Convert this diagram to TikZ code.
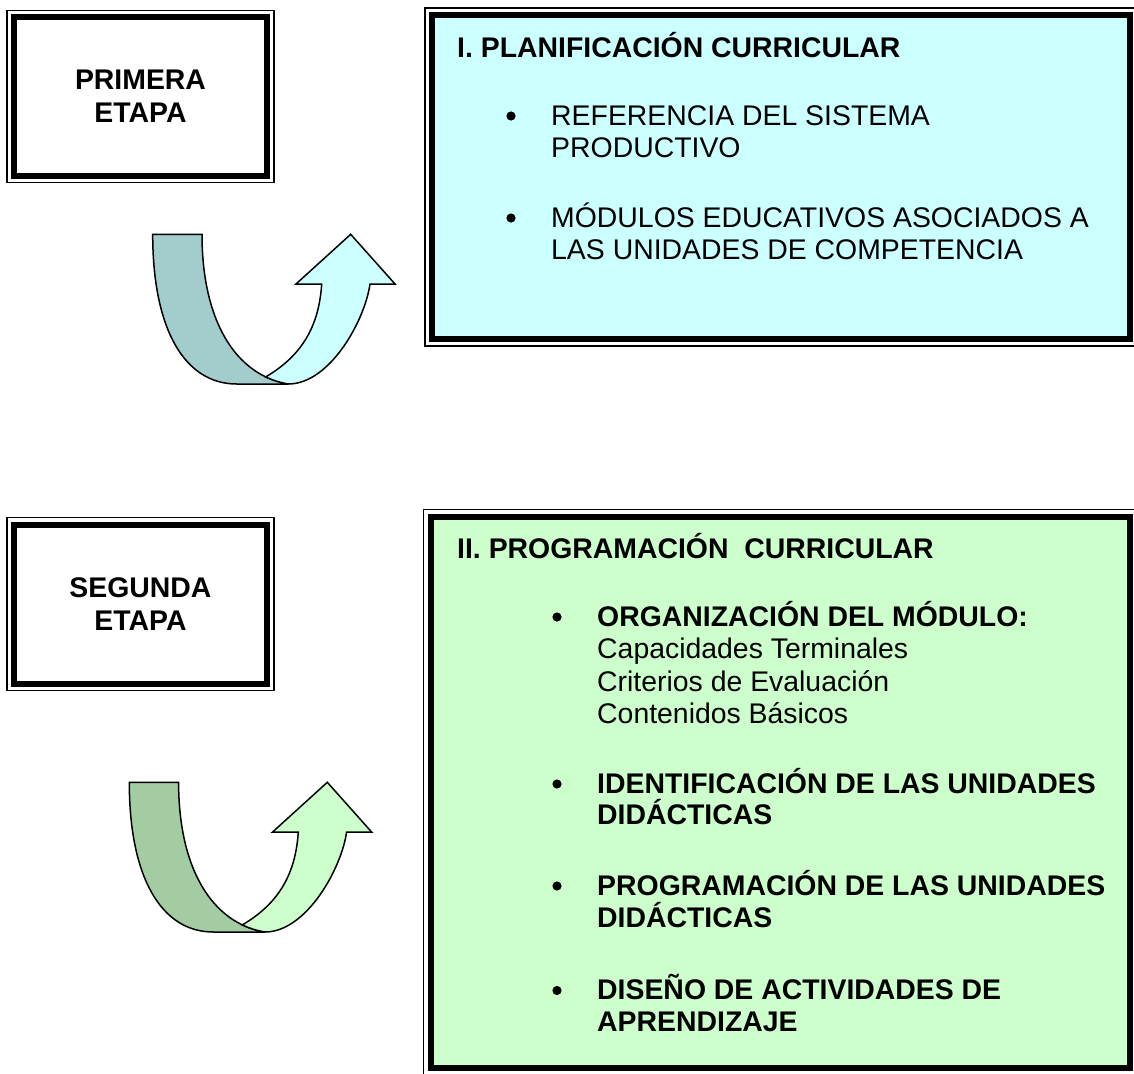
\documentclass[tikz,border=0pt]{standalone}
\usepackage{fontspec}
\setmainfont{Liberation Sans}
\usetikzlibrary{calc,positioning}

\definecolor{cyanbox}{HTML}{CCFFFF}
\definecolor{cyandark}{HTML}{A3CCCC}
\definecolor{greenbox}{HTML}{CCFFCC}
\definecolor{greendark}{HTML}{A3CCA3}

\tikzset{
  framebox/.style={draw, line width=6pt, rectangle, inner sep=0pt, outer sep=0pt,
    align=center, font=\bfseries\fontsize{28.4}{33}\selectfont},
  thinframe/.style={line width=1.5pt},
  linea/.style={anchor=base west, inner sep=0pt, font=\fontsize{28.4}{33}\selectfont},
  lineabold/.style={linea, font=\bfseries\fontsize{28.4}{33}\selectfont},
  band/.style={draw, line width=1.5pt},
}

\begin{document}
\begin{tikzpicture}[x=1pt, y=-1pt]
      \useasboundingbox (0,0) rectangle (1134,1073);

      % Boxes
      \node[framebox, fill=white, minimum width=253pt, minimum height=158pt] (primera) at (140.5,96.5) {PRIMERA\\ETAPA};
      \node[framebox, fill=cyanbox, minimum width=698pt, minimum height=324pt] (planif) at (781,177) {};
      \node[framebox, fill=white, minimum width=253pt, minimum height=159pt] (segunda) at (140.5,604) {SEGUNDA\\ETAPA};
      \node[framebox, fill=greenbox, minimum width=699pt, minimum height=551pt] (program) at (780,792) {};

      % Thin line around each box
      \foreach \cuadro in {primera, planif, segunda, program} {
        \draw[thinframe] ($(\cuadro.north west)+(-7,-7)$) rectangle ($(\cuadro.south east)+(7,7)$);
      }

      % Text of the first stage
      \node[lineabold] (plantit) at (457,57) {I. PLANIFICACIÓN CURRICULAR};
      \foreach \name/\y/\txt in {r1/125/REFERENCIA DEL SISTEMA, r2/157.5/PRODUCTIVO,
          r3/227/MÓDULOS EDUCATIVOS ASOCIADOS A, r4/259.5/LAS UNIDADES DE COMPETENCIA} {
        \node[linea] (\name) at (551,\y) {\txt};
      }
      \foreach \name in {r1, r3} {
        \fill ($(\name.base west)+(-40,-9)$) circle (4.6pt);
      }

      % Text of the second stage
      \node[lineabold] (progtit) at (457,558) {II. PROGRAMACIÓN\ \ CURRICULAR};
      \foreach \name/\y/\txt in {p1/626/{\bfseries ORGANIZACIÓN DEL MÓDULO:}, p2/658.5/Capacidades Terminales,
          p3/691.5/Criterios de Evaluación, p4/723.5/Contenidos Básicos,
          p5/793/{\bfseries IDENTIFICACIÓN DE LAS UNIDADES}, p6/824.5/{\bfseries DIDÁCTICAS},
          p7/895/{\bfseries PROGRAMACIÓN DE LAS UNIDADES}, p8/927/{\bfseries DIDÁCTICAS},
          p9/999.5/{\bfseries DISEÑO DE ACTIVIDADES DE}, p10/1031.5/{\bfseries APRENDIZAJE}} {
        \node[linea] (\name) at (597,\y) {\txt};
      }
      \foreach \name in {p1, p5, p7, p9} {
        \fill ($(\name.base west)+(-40,-9)$) circle (4.6pt);
      }

      % U-turn arrows
      \foreach \ax/\ay/\dark/\light in {152.7/234.3/cyandark/cyanbox, 129.3/782.3/greendark/greenbox} {
        \begin{scope}[shift={(\ax,\ay)}]
          \filldraw[band, fill=\dark] (0,0) -- (49.3,0)
            .. controls (49.3,85.7) and (82.3,140.7) .. (135.6,149.7) -- (84,149.7)
            .. controls (32.3,149.7) and (0,95.7) .. (0,0) -- cycle;
          \filldraw[band, fill=\light] (113,142.6)
            .. controls (120,146) and (127.6,148.3) .. (135.6,149.7)
            .. controls (177.3,149.7) and (212.3,85.7) .. (217.3,49.7)
            -- (242.3,49.7) -- (198,0) -- (143.3,49.7) -- (169,49.7)
            .. controls (166.3,90.7) and (150.3,120.7) .. (113,142.6) -- cycle;
        \end{scope}
      }
    \end{tikzpicture}
\end{document}
